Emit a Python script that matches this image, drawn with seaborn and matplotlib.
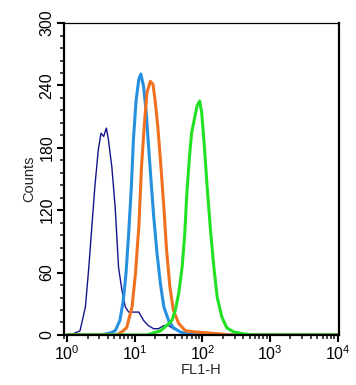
import numpy as np
import pandas as pd
import seaborn as sns
import matplotlib.pyplot as plt
from matplotlib.ticker import LogLocator, MultipleLocator

sns.set_style("ticks")
plt.rcParams['font.family'] = ['Liberation Sans', 'DejaVu Sans']

# log10(FL1-H) positions and counts
navy_log = [0.00, 0.04, 0.12, 0.19, 0.27, 0.32, 0.36, 0.41, 0.46, 0.50, 0.54, 0.58, 0.61,
            0.66, 0.71, 0.76, 0.81, 0.86, 0.91, 0.98, 1.06, 1.13, 1.20, 1.28, 1.35, 1.43,
            1.50, 1.57, 1.67, 1.77, 1.90, 4.00]
navy_cnt = [0, 0, 2, 4, 27, 65, 100, 143, 178, 194, 191, 199, 188,
            162, 123, 65, 43, 27, 22, 22, 22, 14, 9, 6, 6, 9,
            9, 6, 3, 1, 0, 0]

blue_log = [0.00, 0.50, 0.64, 0.71, 0.78, 0.83, 0.87, 0.91, 0.95, 0.98, 1.02, 1.06, 1.09,
            1.13, 1.17, 1.20, 1.24, 1.28, 1.33, 1.38, 1.43, 1.50, 1.57, 1.67, 1.77, 1.90, 4.00]
blue_cnt = [0, 0, 2, 4, 14, 33, 59, 98, 143, 188, 226, 246, 251,
            239, 214, 185, 149, 114, 78, 49, 27, 14, 7, 3, 1, 0, 0]

orange_log = [0.00, 0.73, 0.81, 0.88, 0.96, 1.01, 1.06, 1.10, 1.14, 1.18, 1.23, 1.27, 1.30,
              1.34, 1.38, 1.43, 1.47, 1.52, 1.57, 1.65, 1.75, 1.87, 2.07, 2.26, 2.40, 4.00]
orange_cnt = [0, 0, 3, 7, 27, 59, 104, 162, 201, 233, 244, 241, 226,
              201, 168, 123, 82, 46, 24, 11, 4, 3, 2, 1, 0, 0]

green_log = [0.00, 1.18, 1.28, 1.38, 1.47, 1.55, 1.60, 1.65, 1.70, 1.74, 1.77, 1.81, 1.84,
             1.88, 1.92, 1.96, 1.99, 2.03, 2.07, 2.12, 2.17, 2.22, 2.29, 2.36, 2.46, 2.61,
             2.75, 4.00]
green_cnt = [0, 0, 2, 4, 9, 14, 24, 40, 65, 98, 136, 172, 194,
             207, 220, 225, 214, 181, 143, 101, 65, 36, 17, 7, 3, 1,
             0, 0]

series = ["navy", "blue", "orange", "green"]
colors = {"navy": "#14148a", "blue": "#2590e0", "orange": "#f07020", "green": "#22e022"}
widths = {"navy": 1.0, "blue": 2.2, "orange": 2.2, "green": 2.2}

frames = []
for name, lg, ct in [("navy", navy_log, navy_cnt), ("blue", blue_log, blue_cnt),
                     ("orange", orange_log, orange_cnt), ("green", green_log, green_cnt)]:
    frames.append(pd.DataFrame({"FL1-H": 10 ** np.array(lg), "Counts": ct, "sample": name}))
df = pd.concat(frames, ignore_index=True)

fig = plt.figure(figsize=(3.56, 3.85), dpi=100)
ax = fig.add_axes([0.180, 0.130, 0.772, 0.810])

for name in series:
    sns.lineplot(data=df[df["sample"] == name], x="FL1-H", y="Counts", color=colors[name],
                 linewidth=widths[name], estimator=None, sort=False, ax=ax)

ax.set_xscale("log")
ax.set_xlim(0.90, 10 ** 4.02)
ax.set_ylim(0, 300)
ax.xaxis.set_major_locator(LogLocator(base=10, numticks=10))
ax.xaxis.set_minor_locator(LogLocator(base=10, subs=np.arange(2, 10), numticks=20))
ax.yaxis.set_major_locator(MultipleLocator(60))
ax.yaxis.set_minor_locator(MultipleLocator(12))

ax.tick_params(axis="both", which="major", direction="out", length=5, width=1.5,
               labelsize=11.5, colors="black")
ax.tick_params(axis="both", which="minor", direction="out", length=3, width=1.2)
ax.tick_params(axis="y", labelrotation=90, pad=2)
ax.tick_params(axis="x", pad=2)
for lbl in ax.get_yticklabels():
    lbl.set_va("center")

for side in ["left", "bottom", "right"]:
    ax.spines[side].set_linewidth(1.6)
    ax.spines[side].set_color("black")
ax.spines["top"].set_linewidth(0.9)
ax.spines["top"].set_color("black")
ax.spines["top"].set_visible(True)
ax.spines["right"].set_visible(True)

ax.set_xlabel("FL1-H", fontsize=10.5, labelpad=0)
ax.set_ylabel("Counts", fontsize=10.5, labelpad=2)

fig.savefig("out.png", dpi=100)
